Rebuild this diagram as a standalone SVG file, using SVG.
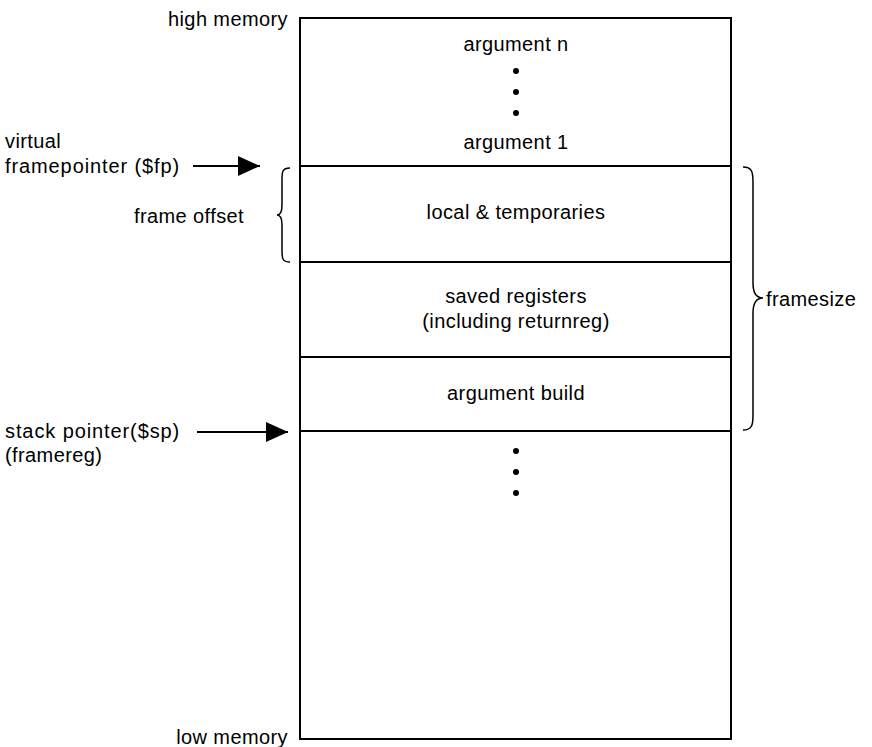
<svg xmlns="http://www.w3.org/2000/svg" width="872" height="747" viewBox="0 0 872 747">
<style>
text{font-family:"Liberation Sans",Arial,sans-serif;font-size:20px;fill:#000;letter-spacing:0.4px}
.c{text-anchor:middle}
.r{text-anchor:end}
.w{letter-spacing:0.9px}
.ln{stroke:#000;stroke-width:2;fill:none}
.br{stroke:#000;stroke-width:1.5;fill:none}
</style>
<defs>
<marker id="ah" markerWidth="22" markerHeight="20" refX="22" refY="10" orient="auto" markerUnits="userSpaceOnUse">
<path d="M0,0 L22,10 L0,20 Z" fill="#000"/>
</marker>
</defs>
<g id="stack">
<rect x="300" y="18" width="431" height="721" class="ln"/>
<text class="r" x="288" y="26">high memory</text>
<text class="r" x="288" y="744">low memory</text>
</g>
<g id="args">
<text class="c" x="516" y="51">argument n</text>
<circle cx="516" cy="71" r="3"/>
<circle cx="516" cy="92" r="3"/>
<circle cx="516" cy="113" r="3"/>
<text class="c" x="516" y="149">argument 1</text>
</g>
<g id="locals">
<line x1="300" y1="166" x2="731" y2="166" class="ln"/>
<text class="c" x="516" y="219">local &amp; temporaries</text>
</g>
<g id="saved">
<line x1="300" y1="262" x2="731" y2="262" class="ln"/>
<text class="c" x="516" y="303">saved registers</text>
<text class="c" x="516" y="328">(including returnreg)</text>
</g>
<g id="argbuild">
<line x1="300" y1="357" x2="731" y2="357" class="ln"/>
<text class="c" x="516" y="400">argument build</text>
</g>
<g id="below">
<line x1="300" y1="431" x2="731" y2="431" class="ln"/>
<circle cx="516" cy="451" r="3"/>
<circle cx="516" cy="472" r="3"/>
<circle cx="516" cy="493" r="3"/>
</g>
<g id="fp-label">
<text x="5" y="148">virtual</text>
<text class="w" x="5" y="173">framepointer ($fp)</text>
</g>
<g id="sp-label">
<text class="w" x="5" y="438">stack pointer($sp)</text>
<text x="5" y="462">(framereg)</text>
</g>
<g id="frame-offset">
<text x="134" y="223">frame offset</text>
<path class="br" d="M290,168 C282,168 282,172 282,180 L282,205 C282,212 280,215 277,215 C280,215 282,218 282,225 L282,250 C282,258 282,262 290,262"/>
</g>
<g id="framesize">
<text x="766" y="306">framesize</text>
<path class="br" d="M743,167 C752,167 753,172 753,182 L753,283 C753,293 756,298 763,298 C756,298 753,303 753,313 L753,415 C753,425 752,430 743,430"/>
</g>
<g id="connectors">
<line x1="193" y1="166" x2="260" y2="166" class="ln" marker-end="url(#ah)"/>
<line x1="197" y1="432" x2="288" y2="432" class="ln" marker-end="url(#ah)"/>
</g>
</svg>
